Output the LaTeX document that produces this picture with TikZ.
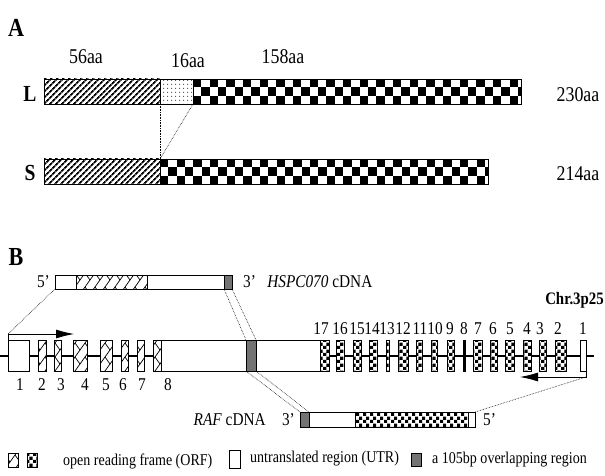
\documentclass[tikz,border=0pt]{standalone}
\usepackage{fontspec}
\setmainfont[FakeStretch=0.85]{Liberation Serif}
\usetikzlibrary{arrows.meta,positioning,patterns,patterns.meta}
\pgfdeclarepatternformonly{zigzag}{\pgfqpoint{-1pt}{-1pt}}{\pgfqpoint{11pt}{15pt}}{\pgfqpoint{10pt}{14pt}}{%
  \pgfsetlinewidth{0.7pt}
  \pgfpathmoveto{\pgfqpoint{0pt}{0pt}}\pgfpathlineto{\pgfqpoint{10pt}{14pt}}
  \pgfpathmoveto{\pgfqpoint{10pt}{0pt}}\pgfpathlineto{\pgfqpoint{5pt}{7pt}}
  \pgfusepath{stroke}}
\pgfdeclarepatternformonly{finecheck}{\pgfpointorigin}{\pgfqpoint{6.6pt}{6.6pt}}{\pgfqpoint{6.6pt}{6.6pt}}{%
  \pgfpathrectangle{\pgfpointorigin}{\pgfqpoint{3.3pt}{3.3pt}}
  \pgfpathrectangle{\pgfqpoint{3.3pt}{3.3pt}}{\pgfqpoint{3.3pt}{3.3pt}}
  \pgfusepath{fill}}
\tikzset{
  box/.style={draw,line width=0.8pt,inner sep=0pt,outer sep=0pt,anchor=north west},
  utr/.style={box,fill=white},
  ovl/.style={box,fill=black!55},
  hatch/.style={box,preaction={fill=white},pattern=zigzag},
  fchk/.style={box,preaction={fill=white},pattern=finecheck},
  slash/.style={box,pattern={Lines[angle=45,distance=4pt,line width=1.8pt]}},
  dotz/.style={box,pattern={Dots[distance=4pt,radius=0.6pt]}},
  bigchk/.style={box,fill=white,path picture={
    \foreach \i in {0,...,39}{\foreach \j in {0,1,2}{\ifodd\numexpr\i+\j\relax\else
      \fill[black] ([xshift=\i*8.33pt,yshift=-\j*8.33pt]path picture bounding box.north west) rectangle ++(8.33,8.33);\fi}}}},
  link/.style={densely dotted,line width=0.6pt},
  tss/.style={line width=0.8pt,-{Latex[length=18pt,width=9pt]}},
  gene/.style={line width=1.8pt},
  lbl/.style={font=\fontsize{18}{20}\selectfont,inner sep=0pt},
  aa/.style={font=\fontsize{21}{22}\selectfont,inner sep=0pt},
  key/.style={font=\fontsize{16.5}{18}\selectfont,inner sep=0pt},
  panel/.style={font=\fontsize{26}{26}\selectfont\bfseries,inner sep=0pt},
  side/.style={font=\fontsize{23}{23}\selectfont\bfseries,inner sep=0pt}
}

\begin{document}
\begin{tikzpicture}[x=1pt,y=-1pt]
 \useasboundingbox (0,0) rectangle (605,476);
 % panel A: L and S isoforms
 \node[panel] (pA) at (16,28) {A};
 \node[side] (iL) at (30,94) {L};
 \node[side] (iS) at (30,173) {S};
 \node[slash,minimum width=116,minimum height=25] (Lh) at (44,79) {};
 \node[dotz,minimum width=33,minimum height=25] (Ld) at (Lh.north east) {};
 \node[bigchk,minimum width=328,minimum height=25] (Lc) at (Ld.north east) {};
 \node[slash,minimum width=116,minimum height=25] (Sh) at (44,159) {};
 \node[bigchk,minimum width=328,minimum height=25] (Sc) at (Sh.north east) {};
 \node[aa] (aa56) at (86,57) {56aa};
 \node[aa] (aa16) at (188,61) {16aa};
 \node[aa] (aa158) at (283,57) {158aa};
 \node[aa] (aa230) at (578,95) {230aa};
 \node[aa] (aa214) at (578,174) {214aa};
 \draw[link] (Lh.south east) -- (Sh.north east);
 \draw[link] (Ld.south east) -- (Sh.north east);
 % panel B: HSPC070 cDNA
 \node[panel] (pB) at (16,257) {B};
 \node[utr,minimum width=21,minimum height=14] (c5) at (55,275) {};
 \node[hatch,minimum width=71,minimum height=14] (cOrf) at (c5.north east) {};
 \node[utr,minimum width=77,minimum height=14] (c3) at (cOrf.north east) {};
 \node[ovl,minimum width=8,minimum height=14] (cOv) at (c3.north east) {};
 \node[lbl,left=5pt of c5] (c5p) {5’};
 \node[lbl,right=11pt of cOv] (c3p) {3’};
 \node[lbl,right=11pt of c3p] (cName) {\textit{HSPC070} cDNA};
 \node[side,font=\fontsize{17.5}{18}\selectfont\bfseries,anchor=east] (chr) at (604,300) {Chr.3p25};
 % genomic line and exons
 \coordinate (g0) at (0,356);
 \coordinate (g1) at (594,356);
 \draw[gene] (g0) -- (g1);
 \node[utr,minimum width=21,minimum height=31] (x1) at (8,340) {};
 \foreach \n/\x/\w in {2/38/8,3/54/7,4/73/14,5/100/12,6/121/7,7/137/7,8/153/8}
   \node[hatch,minimum width=\w,minimum height=31] (x\n) at (\x,340) {};
 \node[utr,minimum width=85,minimum height=31] (u8) at (x8.north east) {};
 \node[ovl,minimum width=10,minimum height=31] (gOv) at (u8.north east) {};
 \node[utr,minimum width=64,minimum height=31] (u17) at (gOv.north east) {};
 \node[fchk,minimum width=9,minimum height=31] (y17) at (u17.north east) {};
 \foreach \n/\x/\w in {16/336/8,15/353/8,14/369/8,13/386/3,12/398/10,11/416/6,10/431/6,9/447/7,7/473/9,6/490/7,5/505/9,4/523/8,3/539/7,2/555/11}
   \node[fchk,minimum width=\w,minimum height=31] (y\n) at (\x,340) {};
 \node[box,fill=black,minimum width=2,minimum height=31] (y8) at (463,340) {};
 \node[utr,minimum width=6,minimum height=31] (y1) at (580,340) {};
 \foreach \n/\x in {1/20,2/42,3/61,4/85,5/106,6/123,7/142,8/168}
   \node[lbl] (m\n) at (\x,385) {\n};
 \foreach \n/\x in {17/321,16/340,15/357,14/372,13/387,12/403,11/420,10/435,9/450,8/464,7/478,6/493,5/510,4/527,3/540,2/558,1/583}
   \node[lbl] (k\n) at (\x,329) {\n};
 % transcription start arrows
 \coordinate (tssL) at ([yshift=6pt]x1.north west);
 \draw[tss] (x1.north west) -- (tssL) -- ++(66,0);
 \coordinate (tssR) at ([yshift=-6pt]y1.south east);
 \draw[tss] (y1.south east) -- (tssR) -- ++(-66,0);
 % RAF cDNA
 \node[ovl,minimum width=9,minimum height=15] (rOv) at (300,412) {};
 \node[utr,minimum width=46,minimum height=15] (r3) at (rOv.north east) {};
 \node[fchk,minimum width=113,minimum height=15] (rOrf) at (r3.north east) {};
 \node[utr,minimum width=7,minimum height=15] (r5) at (rOrf.north east) {};
 \node[lbl,left=5pt of rOv] (r3p) {3’};
 \node[lbl,left=16pt of r3p] (rName) {\textit{RAF} cDNA};
 \node[lbl,right=8pt of r5] (r5p) {5’};
 \draw[link] (c5.south west) -- (tssL);
 \draw[link] (cOv.south west) -- (gOv.north west);
 \draw[link] (cOv.south east) -- (gOv.north east);
 \draw[link] (gOv.south west) -- (rOv.north west);
 \draw[link] (gOv.south east) -- (rOv.north east);
 \draw[link] (tssR) -- (r5.north east);
 % legend
 \node[hatch,minimum width=10,minimum height=14] (kH) at (8,453) {};
 \node[fchk,minimum width=10,minimum height=14] (kC) at (27,453) {};
 \node[key,anchor=west] (kHt) at (63,461) {open reading frame (ORF)};
 \node[utr,minimum width=11,minimum height=18] (kU) at (229,450) {};
 \node[key,right=10pt of kU] (kUt) {untranslated region (UTR)};
 \node[ovl,minimum width=10,minimum height=13] (kG) at (411,453) {};
 \node[key,right=11pt of kG] (kGt) {a 105bp overlapping region};
\end{tikzpicture}
\end{document}
